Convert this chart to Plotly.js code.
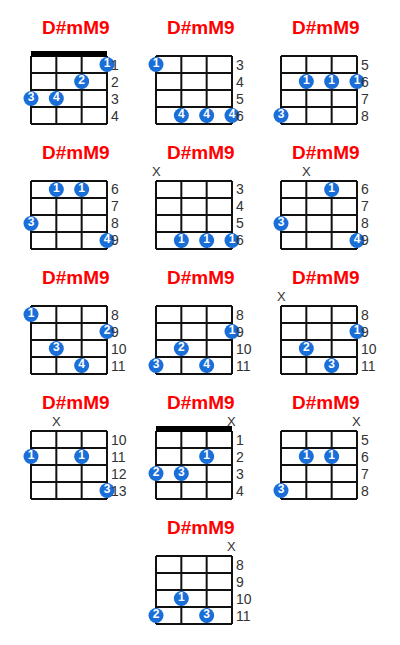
<!DOCTYPE html>
<html>
<head>
<meta charset="utf-8">
<script src="https://cdn.plot.ly/plotly-3.0.1.min.js"></script>
<style>
    html, body { margin: 0; padding: 0; background: #fff; }
    #chords { width: 400px; height: 645px; }
</style>
</head>
<body>
<div id="chords"></div>
<script>
const chordName = 'D#mM9';
const baseFrets = [1, 3, 5, 6, 3, 6, 8, 8, 8, 10, 1, 5, 8];
const hasNut = [true, false, false, false, false, false, false, false, false, false, true, false, false];
// 0 = nothing muted
const mutedString = [0, 0, 0, 0, 1, 2, 0, 0, 1, 2, 4, 4, 4];
const dotStrings = [
    [4, 3, 1, 2], [1, 2, 3, 4], [2, 3, 4, 1], [2, 3, 1, 4], [2, 3, 4],
    [3, 1, 4], [1, 4, 2, 3], [4, 2, 1, 3], [4, 2, 3], [1, 3, 4],
    [3, 1, 2], [2, 3, 1], [2, 1, 3],
];
const dotFrets = [
    [1, 2, 3, 3], [3, 6, 6, 6], [6, 6, 6, 8], [6, 6, 8, 9], [6, 6, 6],
    [6, 8, 9], [8, 9, 10, 11], [9, 10, 11, 11], [9, 10, 11], [11, 11, 13],
    [2, 3, 3], [6, 6, 8], [10, 11, 11],
];
const dotFingers = [
    ['1', '2', '3', '4'], ['1', '4', '4', '4'], ['1', '1', '1', '3'], ['1', '1', '3', '4'], ['1', '1', '1'],
    ['1', '3', '4'], ['1', '2', '3', '4'], ['1', '2', '3', '4'], ['1', '2', '3'], ['1', '1', '3'],
    ['1', '2', '3'], ['1', '1', '3'], ['1', '2', '3'],
];

const W = 400;
const H = 645;
const PER_ROW = 3;
const COL_STEP = 125;
const ROW_STEP = 125;
const FIRST_LEFT = 31;
const FIRST_TOP = 56;
const STRING_GAP = 25.33;
const FRET_GAP = 17;
const X_RANGE = [0.4, 5.2];
const Y_RANGE = [4.5, -2.4];
const FONT = 'Arial, "Liberation Sans", sans-serif';
const DOT_BLUE = '#1a6ed8';

const traces = [];
const annotations = [];
const layout = {
    width: W,
    height: H,
    margin: { l: 0, r: 0, t: 0, b: 0 },
    paper_bgcolor: '#fff',
    plot_bgcolor: 'rgba(0,0,0,0)',
    showlegend: false,
    annotations,
};

const hiddenAxis = (range, domain, anchor) => ({
    range,
    domain,
    anchor,
    showgrid: false,
    zeroline: false,
    showticklabels: false,
    showline: false,
    ticks: '',
    fixedrange: true,
});

baseFrets.forEach((base, i) => {
    const n = i + 1;
    const xa = n === 1 ? 'x' : 'x' + n;
    const ya = n === 1 ? 'y' : 'y' + n;
    const row = Math.floor(i / PER_ROW);
    const inRow = Math.min(PER_ROW, baseFrets.length - row * PER_ROW);
    const col = i % PER_ROW + (PER_ROW - inRow) / 2;
    const gridLeft = FIRST_LEFT + col * COL_STEP;
    const gridTop = FIRST_TOP + row * ROW_STEP;

    const pxL = gridLeft + (X_RANGE[0] - 1) * STRING_GAP;
    const pxR = gridLeft + (X_RANGE[1] - 1) * STRING_GAP;
    const pxT = gridTop + Y_RANGE[1] * FRET_GAP;
    const pxB = gridTop + Y_RANGE[0] * FRET_GAP;
    layout['xaxis' + (n === 1 ? '' : n)] = hiddenAxis(X_RANGE, [pxL / W, pxR / W], ya);
    layout['yaxis' + (n === 1 ? '' : n)] = hiddenAxis(Y_RANGE, [1 - pxB / H, 1 - pxT / H], xa);

    // strings and frets
    const gx = [];
    const gy = [];
    [1, 2, 3, 4].forEach(s => { gx.push(s, s, null); gy.push(0, 4, null); });
    [0, 1, 2, 3, 4].forEach(r => { gx.push(1, 4, null); gy.push(r, r, null); });
    traces.push({
        type: 'scatter', mode: 'lines', xaxis: xa, yaxis: ya,
        x: gx, y: gy, hoverinfo: 'skip',
        line: { color: '#111', width: 2 },
    });

    if (hasNut[i]) {
        traces.push({
            type: 'scatter', mode: 'lines', xaxis: xa, yaxis: ya,
            x: [1, 4], y: [-0.12, -0.12], hoverinfo: 'skip',
            line: { color: '#000', width: 6 },
        });
    }

    traces.push({
        type: 'scatter', mode: 'markers+text', xaxis: xa, yaxis: ya,
        x: dotStrings[i],
        y: dotFrets[i].map(f => f - base + 0.5),
        text: dotFingers[i],
        textposition: 'middle center',
        textfont: { family: FONT, size: 12, color: '#fff', weight: 'bold' },
        marker: { size: 15, color: DOT_BLUE, line: { width: 0 } },
        cliponaxis: false,
        hoverinfo: 'skip',
    });

    annotations.push({
        xref: xa, yref: ya, x: 2.78, y: -1.7,
        text: '<b>' + chordName + '</b>', showarrow: false,
        font: { family: FONT, size: 19, color: '#ff0000' },
    });

    [0, 1, 2, 3].forEach(r => {
        annotations.push({
            xref: xa, yref: ya, x: 4.06, y: r + 0.5,
            xanchor: 'left', text: String(base + r), showarrow: false,
            font: { family: FONT, size: 14, color: '#333' },
        });
    });

    if (mutedString[i]) {
        annotations.push({
            xref: xa, yref: ya, x: mutedString[i], y: -0.55,
            text: 'X', showarrow: false,
            font: { family: FONT, size: 13, color: '#333' },
        });
    }
});

Plotly.newPlot('chords', traces, layout, { staticPlot: true, displayModeBar: false });
</script>
</body>
</html>
